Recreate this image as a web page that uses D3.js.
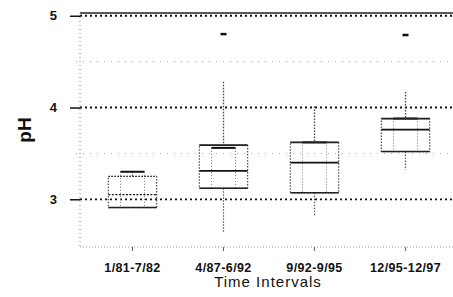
<!DOCTYPE html>
<html>
<head>
<meta charset="utf-8">
<script src="https://cdn.jsdelivr.net/npm/d3@7"></script>
<style>
  body { margin: 0; background: #fff; }
  text { font-family: Arial, "Liberation Sans", sans-serif; fill: #111; }
</style>
</head>
<body>
<div id="chart"></div>
<script>
// Data
let categories = ["1/81-7/82", "4/87-6/92", "9/92-9/95", "12/95-12/97"];
let whiskerLow = [2.91, 2.64, 2.81, 3.32];
let q1 = [2.91, 3.12, 3.07, 3.52];
let median = [3.05, 3.31, 3.40, 3.76];
let q3 = [3.25, 3.59, 3.62, 3.88];
let innerTop = [3.30, 3.56, 3.62, 3.88];
let whiskerHigh = [3.30, 4.28, 4.01, 4.17];
let outliers = [null, 4.80, null, 4.79];
let majorTicks = [3, 4, 5];
let minorTicks = [3.5, 4.5];

let svgWidth = 453, svgHeight = 297;
let margin = { top: 13, left: 80, bottom: 247 };

let svg = d3.select('#chart')
            .append('svg')
            .attr('width', svgWidth)
            .attr('height', svgHeight);

let yScale = d3.scaleLinear()
               .domain([2.48, 5.03])
               .range([margin.bottom, margin.top]);

let xScale = d3.scaleBand()
               .domain(categories)
               .range([87, 451])
               .padding(0);

let boxHalf = xScale.bandwidth() * 0.265;
let innerHalf = 12;

// Light gridlines
svg.selectAll('.minor')
   .data(minorTicks)
   .enter()
   .append('line')
   .attr('x1', margin.left - 4)
   .attr('x2', svgWidth)
   .attr('y1', d => yScale(d))
   .attr('y2', d => yScale(d))
   .attr('stroke', '#aaa')
   .attr('stroke-width', 1)
   .attr('stroke-dasharray', '1,6');

// Heavy dotted gridlines
svg.selectAll('.major')
   .data(majorTicks)
   .enter()
   .append('line')
   .attr('x1', margin.left)
   .attr('x2', svgWidth)
   .attr('y1', d => yScale(d))
   .attr('y2', d => yScale(d))
   .attr('stroke', '#111')
   .attr('stroke-width', 1.8)
   .attr('stroke-dasharray', '2,3');

// Top border
svg.append('line')
   .attr('x1', margin.left)
   .attr('x2', svgWidth)
   .attr('y1', yScale(5.03))
   .attr('y2', yScale(5.03))
   .attr('stroke', '#222')
   .attr('stroke-width', 1.3);

// Left axis (dotted) and bottom axis
svg.append('line')
   .attr('x1', margin.left).attr('x2', margin.left)
   .attr('y1', margin.top).attr('y2', margin.bottom)
   .attr('stroke', '#888')
   .attr('stroke-dasharray', '1,3');

svg.append('line')
   .attr('x1', margin.left).attr('x2', svgWidth)
   .attr('y1', margin.bottom).attr('y2', margin.bottom)
   .attr('stroke', '#999')
   .attr('stroke-dasharray', '1,2');

// Y ticks and labels
let yAxis = d3.axisLeft(yScale)
              .tickValues(majorTicks)
              .tickSize(10)
              .tickFormat(d3.format('d'));

let yG = svg.append('g')
            .attr('transform', `translate(${margin.left}, 0)`)
            .call(yAxis);
yG.select('.domain').remove();
yG.selectAll('line').attr('stroke', '#111').attr('stroke-width', 1.5);
yG.selectAll('text')
  .attr('x', -23)
  .style('font-size', '13px')
  .style('font-weight', 'bold')
  .attr('fill', '#111');

// X axis labels
let xAxis = d3.axisBottom(xScale).tickSize(4).tickPadding(12);
let xG = svg.append('g')
            .attr('transform', `translate(0, ${margin.bottom})`)
            .call(xAxis);
xG.select('.domain').remove();
xG.selectAll('line').attr('stroke', '#666');
xG.selectAll('text')
  .style('font-size', '12.5px')
  .style('font-weight', 'bold')
  .style('letter-spacing', '0.4px')
  .attr('fill', '#111');

// Boxes
let groups = svg.selectAll('.box')
                .data(categories)
                .enter()
                .append('g')
                .attr('class', 'box');

let cx = d => xScale(d) + xScale.bandwidth() / 2;

// whiskers
groups.append('line')
      .attr('x1', cx).attr('x2', cx)
      .attr('y1', (d, i) => yScale(whiskerHigh[i]))
      .attr('y2', (d, i) => yScale(q3[i]))
      .attr('stroke', '#444')
      .attr('stroke-width', 1.3)
      .attr('stroke-dasharray', '1.5,1.5');

groups.append('line')
      .attr('x1', cx).attr('x2', cx)
      .attr('y1', (d, i) => yScale(q1[i]))
      .attr('y2', (d, i) => yScale(whiskerLow[i]))
      .attr('stroke', '#555')
      .attr('stroke-width', 1.2)
      .attr('stroke-dasharray', '1.5,1.5');

// outer box
groups.append('rect')
      .attr('x', d => cx(d) - boxHalf)
      .attr('width', boxHalf * 2)
      .attr('y', (d, i) => yScale(q3[i]))
      .attr('height', (d, i) => yScale(q1[i]) - yScale(q3[i]))
      .attr('fill', 'none')
      .attr('stroke', '#555')
      .attr('stroke-width', 1.3)
      .attr('stroke-dasharray', '1.5,1.5');

// inner dotted verticals
[-1, 1].forEach(s => {
  groups.append('line')
        .attr('x1', d => cx(d) + s * innerHalf)
        .attr('x2', d => cx(d) + s * innerHalf)
        .attr('y1', (d, i) => yScale(innerTop[i]))
        .attr('y2', (d, i) => yScale(q1[i]))
        .attr('stroke', '#777')
        .attr('stroke-width', 1)
        .attr('stroke-dasharray', '1,2');
});

// inner top bar
groups.append('line')
      .attr('x1', d => cx(d) - innerHalf)
      .attr('x2', d => cx(d) + innerHalf)
      .attr('y1', (d, i) => yScale(innerTop[i]))
      .attr('y2', (d, i) => yScale(innerTop[i]))
      .attr('stroke', '#111')
      .attr('stroke-width', 2);

// box top (Q3) solid
groups.append('line')
      .attr('x1', d => cx(d) - boxHalf)
      .attr('x2', d => cx(d) + boxHalf)
      .attr('y1', (d, i) => yScale(q3[i]))
      .attr('y2', (d, i) => yScale(q3[i]))
      .attr('stroke', '#222')
      .attr('stroke-width', (d, i) => i === 0 ? 1 : 1.8)
      .attr('stroke-dasharray', (d, i) => i === 0 ? '1.5,1.5' : null);

// median
groups.append('line')
      .attr('x1', d => cx(d) - boxHalf)
      .attr('x2', d => cx(d) + boxHalf)
      .attr('y1', (d, i) => yScale(median[i]))
      .attr('y2', (d, i) => yScale(median[i]))
      .attr('stroke', '#111')
      .attr('stroke-width', (d, i) => i === 0 ? 1.2 : 1.8)
      .attr('stroke-dasharray', (d, i) => i === 0 ? '2,1.5' : null);

// box bottom (Q1)
groups.append('line')
      .attr('x1', d => cx(d) - boxHalf)
      .attr('x2', d => cx(d) + boxHalf)
      .attr('y1', (d, i) => yScale(q1[i]))
      .attr('y2', (d, i) => yScale(q1[i]))
      .attr('stroke', '#222')
      .attr('stroke-width', 1.5);

// outliers
groups.filter((d, i) => outliers[i] !== null)
      .append('line')
      .attr('x1', d => cx(d) - 3)
      .attr('x2', d => cx(d) + 3)
      .attr('y1', d => yScale(outliers[categories.indexOf(d)]))
      .attr('y2', d => yScale(outliers[categories.indexOf(d)]))
      .attr('stroke', '#111')
      .attr('stroke-width', 2.5);

// Axis titles
svg.append('text')
   .attr('transform', `translate(31, 130) rotate(-90)`)
   .attr('text-anchor', 'middle')
   .style('font-size', '19px')
   .style('font-weight', 'bold')
   .text('pH');

svg.append('text')
   .attr('x', 268)
   .attr('y', 287)
   .attr('text-anchor', 'middle')
   .style('font-size', '15px')
   .style('letter-spacing', '1px')
   .text('Time Intervals');
</script>
</body>
</html>
